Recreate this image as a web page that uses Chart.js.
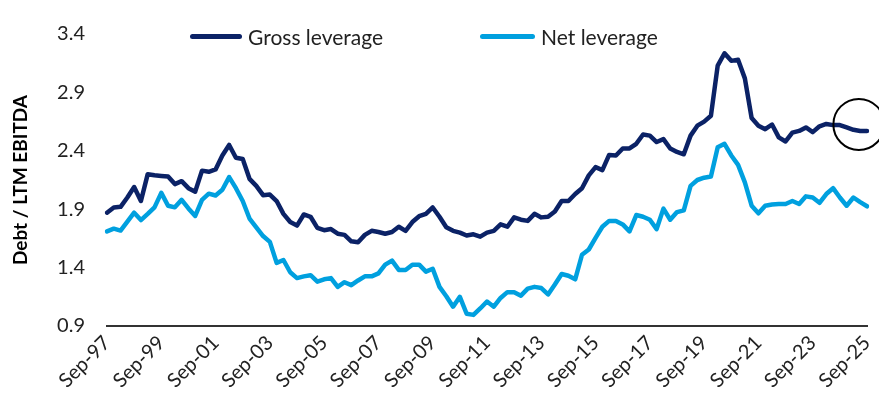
<!DOCTYPE html>
<html>
<head>
<meta charset="utf-8">
<script src="https://cdn.jsdelivr.net/npm/chart.js@4.4.1/dist/chart.umd.min.js"></script>
<style>
  html, body { margin: 0; padding: 0; background: #fff; }
  #wrap { position: relative; width: 879px; height: 400px; }
  #legend { position: absolute; top: 0; left: 0; width: 879px; height: 60px; pointer-events: none;
            font-family: Lato, "Open Sans", sans-serif; font-size: 21px; color: #222; }
  .item { position: absolute; top: 24px; display: flex; align-items: center; }
  .swatch { width: 52px; height: 5px; border-radius: 3px; margin-right: 6px; }
</style>
</head>
<body>
<div id="wrap">
  <canvas id="chart" width="879" height="400"></canvas>
  <div id="legend">
    <div class="item" style="left:190px"><span class="swatch" style="background:#0b2266"></span>Gross leverage</div>
    <div class="item" style="left:480px"><span class="swatch" style="background:#00a0df; width:55px"></span>Net leverage</div>
  </div>
</div>
<script>
// quarterly, Sep-97 .. Sep-25
const quarters = [];
const monthNames = ['Mar', 'Jun', 'Sep', 'Dec'];
for (let y = 1997; y <= 2025; y++) {
    for (let q = 0; q < 4; q++) {
        if (y === 1997 && q < 2) continue;
        if (y === 2025 && q > 2) continue;
        quarters.push(monthNames[q] + '-' + String(y).slice(2));
    }
}

const tickLabels = ['Sep-97', 'Sep-99', 'Sep-01', 'Sep-03', 'Sep-05', 'Sep-07', 'Sep-09', 'Sep-11',
    'Sep-13', 'Sep-15', 'Sep-17', 'Sep-19', 'Sep-21', 'Sep-23', 'Sep-25'];
const yTicks = [0.9, 1.4, 1.9, 2.4, 2.9, 3.4];

const grossLeverage = [
    1.87, 1.915, 1.92, 2.0, 2.09, 1.97, 2.2, 2.19, 2.185, 2.18,
    2.115, 2.14, 2.08, 2.05, 2.23, 2.22, 2.24, 2.36, 2.45, 2.34,
    2.33, 2.16, 2.10, 2.02, 2.025, 1.97, 1.86, 1.79, 1.76, 1.855,
    1.835, 1.74, 1.72, 1.73, 1.69, 1.68, 1.625, 1.617, 1.68, 1.715,
    1.705, 1.69, 1.705, 1.75, 1.715, 1.79, 1.84, 1.86, 1.915, 1.835,
    1.745, 1.715, 1.70, 1.675, 1.685, 1.665, 1.70, 1.715, 1.77, 1.75,
    1.83, 1.81, 1.80, 1.86, 1.83, 1.835, 1.88, 1.97, 1.97, 2.03,
    2.08, 2.19, 2.26, 2.235, 2.365, 2.36, 2.42, 2.42, 2.46, 2.54,
    2.53, 2.475, 2.50, 2.42, 2.39, 2.37, 2.53, 2.615, 2.65, 2.70,
    3.13, 3.235, 3.17, 3.18, 3.02, 2.68, 2.615, 2.585, 2.625, 2.515,
    2.48, 2.555, 2.57, 2.60, 2.56, 2.61, 2.63, 2.62, 2.62, 2.60,
    2.58, 2.57, 2.57
];

const netLeverage = [
    1.71, 1.733, 1.717, 1.793, 1.87, 1.807, 1.86, 1.916, 2.04, 1.93,
    1.916, 1.98, 1.907, 1.842, 1.98, 2.033, 2.017, 2.066, 2.175, 2.08,
    1.97, 1.82, 1.745, 1.67, 1.62, 1.44, 1.465, 1.36, 1.31, 1.325,
    1.335, 1.28, 1.30, 1.31, 1.235, 1.275, 1.25, 1.29, 1.325, 1.325,
    1.35, 1.425, 1.46, 1.38, 1.38, 1.425, 1.425, 1.365, 1.39, 1.235,
    1.155, 1.065, 1.15, 1.005, 0.995, 1.05, 1.11, 1.065, 1.14, 1.19,
    1.19, 1.16, 1.22, 1.235, 1.225, 1.17, 1.255, 1.345, 1.33, 1.30,
    1.51, 1.555, 1.655, 1.75, 1.80, 1.80, 1.77, 1.71, 1.85, 1.835,
    1.81, 1.73, 1.905, 1.81, 1.875, 1.89, 2.10, 2.15, 2.17, 2.18,
    2.43, 2.46, 2.36, 2.28, 2.13, 1.93, 1.865, 1.93, 1.94, 1.945,
    1.945, 1.97, 1.945, 2.01, 2.0, 1.955, 2.03, 2.08, 2.0, 1.93,
    2.0, 1.96, 1.925
];

// highlight ring around the latest reading
const ringAt = { index: 110.8, value: 2.626, radius: 25.5 };

const ringPlugin = {
    id: 'ring',
    afterDatasetsDraw(chart) {
        const c = chart.ctx;
        const x = chart.scales.x.getPixelForValue(ringAt.index);
        const y = chart.scales.y.getPixelForValue(ringAt.value);
        c.save();
        c.beginPath();
        c.arc(x, y, ringAt.radius, 0, Math.PI * 2);
        c.lineWidth = 2;
        c.strokeStyle = '#000';
        c.stroke();
        c.restore();
    }
};

const ctx = document.getElementById('chart').getContext('2d');
const chart = new Chart(ctx, {
    type: 'line',
    data: {
        labels: quarters,
        datasets: [
            {
                label: 'Gross leverage',
                data: grossLeverage,
                borderColor: '#0b2266',
                borderWidth: 4.5,
                pointRadius: 0,
                tension: 0,
                borderJoinStyle: 'round',
                borderCapStyle: 'round'
            },
            {
                label: 'Net leverage',
                data: netLeverage,
                borderColor: '#00a0df',
                borderWidth: 4.5,
                pointRadius: 0,
                tension: 0,
                borderJoinStyle: 'round',
                borderCapStyle: 'round'
            }
        ]
    },
    options: {
        responsive: false,
        animation: false,
        layout: { padding: { top: 20, right: 12, left: 0, bottom: 0 } },
        plugins: {
            legend: { display: false },
            tooltip: { enabled: false }
        },
        scales: {
            x: {
                grid: { display: false, drawTicks: false },
                border: { display: true, color: '#333', width: 2 },
                afterFit: s => { s.height = 74; s.paddingRight = 0; s.paddingLeft = 0; },
                ticks: {
                    autoSkip: false,
                    maxRotation: 45,
                    minRotation: 45,
                    padding: 5,
                    color: '#222',
                    font: { family: 'Lato', size: 20 },
                    callback: function (v, i) {
                        const lab = quarters[i];
                        return tickLabels.includes(lab) ? lab : null;
                    }
                }
            },
            y: {
                min: 0.9,
                max: 3.4,
                afterFit: s => { s.width = 107; },
                afterBuildTicks: s => { s.ticks = yTicks.map(v => ({ value: v })); },
                grid: { display: false, drawTicks: false },
                border: { display: false },
                ticks: {
                    padding: 22,
                    color: '#222',
                    font: { family: 'Lato', size: 20 },
                    callback: v => v.toFixed(1)
                },
                title: {
                    display: true,
                    text: 'Debt / LTM EBITDA',
                    color: '#000',
                    font: { family: 'Lato', size: 19, weight: 'bold' },
                    padding: { top: 9, bottom: 0 }
                }
            }
        }
    },
    plugins: [ringPlugin]
});
</script>
</body>
</html>
